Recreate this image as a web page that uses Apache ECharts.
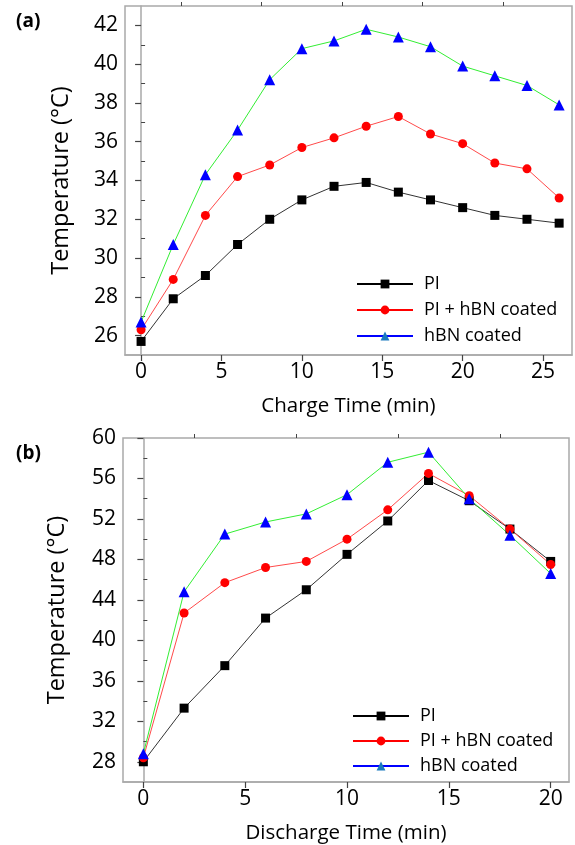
<!DOCTYPE html>
<html>
<head>
<meta charset="utf-8">
<script src="https://cdn.jsdelivr.net/npm/echarts@6/dist/echarts.min.js"></script>
<style>
  html, body { margin: 0; padding: 0; background: #fff; }
  #chart { width: 575px; height: 845px; }
</style>
</head>
<body>
<div id="chart"></div>
<script>
// (a) charge
var chargeTime = [0, 2, 4, 6, 8, 10, 12, 14, 16, 18, 20, 22, 24, 26];
var piCharge = [25.7, 27.9, 29.1, 30.7, 32.0, 33.0, 33.7, 33.9, 33.4, 33.0, 32.6, 32.2, 32.0, 31.8];
var piHbnCharge = [26.3, 28.9, 32.2, 34.2, 34.8, 35.7, 36.2, 36.8, 37.3, 36.4, 35.9, 34.9, 34.6, 33.1];
var hbnCharge = [26.7, 30.7, 34.3, 36.6, 39.2, 40.8, 41.2, 41.8, 41.4, 40.9, 39.9, 39.4, 38.9, 37.9];

// (b) discharge
var dischargeTime = [0, 2, 4, 6, 8, 10, 12, 14, 16, 18, 20];
var piDischarge = [28.0, 33.3, 37.5, 42.2, 45.0, 48.5, 51.8, 55.8, 53.8, 51.0, 47.8];
var piHbnDischarge = [28.4, 42.7, 45.7, 47.2, 47.8, 50.0, 52.9, 56.5, 54.3, 51.0, 47.5];
var hbnDischarge = [28.8, 44.8, 50.5, 51.7, 52.5, 54.4, 57.6, 58.6, 54.0, 50.4, 46.6];

// tick labels
var chargeXTicks = [0, 5, 10, 15, 20, 25];
var chargeXMinor = [2.5, 7.5, 12.5, 17.5, 22.5];
var chargeYTicks = [26, 28, 30, 32, 34, 36, 38, 40, 42];
var chargeYMinor = [27, 29, 31, 33, 35, 37, 39, 41];
var dischargeXTicks = [0, 5, 10, 15, 20];
var dischargeXMinor = [2.5, 7.5, 12.5, 17.5];
var dischargeYTicks = [28, 32, 36, 40, 44, 48, 52, 56, 60];
var dischargeYMinor = [30, 34, 38, 42, 46, 50, 54, 58];

var names = ['PI', 'PI + hBN coated', 'hBN coated'];

function pairs(xs, ys) {
    return xs.map(function (x, i) { return [x, ys[i]]; });
}

var font = 'Open Sans';
var axisGrey = '#a9a9a9';

function valueAxis(grid, min, max, ticks, name, gap, nameSize) {
    return {
        type: 'value',
        gridIndex: grid,
        min: min,
        max: max,
        name: name,
        nameLocation: 'middle',
        nameGap: gap,
        nameTextStyle: { fontFamily: font, fontSize: nameSize, color: '#000' },
        axisLine: { show: true, lineStyle: { color: axisGrey, width: 1.5 } },
        axisTick: { show: true, inside: false, length: 6, customValues: ticks, lineStyle: { color: '#444', width: 1.2 } },
        axisLabel: { customValues: ticks, fontFamily: font, fontSize: 21, color: '#000', margin: 7 },
        splitLine: { show: false }
    };
}

// second axis that only draws the short minor ticks
function minorAxis(grid, min, max, ticks) {
    return {
        type: 'value',
        gridIndex: grid,
        min: min,
        max: max,
        axisLine: { show: false },
        axisTick: { show: true, length: 4, customValues: ticks, lineStyle: { color: '#444', width: 1 } },
        axisLabel: { show: false },
        splitLine: { show: false }
    };
}

function lineSeries(name, data, xi, yi, lineColor, markColor, symbol, size) {
    return {
        name: name,
        type: 'line',
        xAxisIndex: xi,
        yAxisIndex: yi,
        data: data,
        symbol: symbol,
        symbolSize: size,
        showSymbol: true,
        lineStyle: { color: lineColor, width: 1 },
        itemStyle: { color: markColor },
        animation: false
    };
}

function legendAt(left, top, gap) {
    return {
        orient: 'vertical',
        left: left,
        top: top,
        itemWidth: 56,
        itemHeight: 11,
        itemGap: gap,
        textStyle: { fontFamily: font, fontSize: 18, color: '#000', padding: [0, 0, 0, 6] },
        data: [
            { name: names[0], itemStyle: { color: '#000' }, lineStyle: { color: '#000', width: 2 } },
            { name: names[1], itemStyle: { color: '#ff0000' }, lineStyle: { color: '#ff0000', width: 2 } },
            { name: names[2], itemStyle: { color: '#1a7abf' }, lineStyle: { color: '#0000ff', width: 2 } }
        ],
        selectedMode: false
    };
}

var chart = echarts.init(document.getElementById('chart'));
chart.setOption({
    backgroundColor: '#fff',
    animation: false,
    title: [
        { text: '(a)', left: 11, top: 7, textStyle: { fontFamily: font, fontSize: 19, fontWeight: 'bold', color: '#000' } },
        { text: '(b)', left: 11, top: 439, textStyle: { fontFamily: font, fontSize: 19, fontWeight: 'bold', color: '#000' } }
    ],
    grid: [
        { left: 125, top: 6, right: 3, height: 349, show: true, borderColor: axisGrey, borderWidth: 1.5, backgroundColor: 'transparent' },
        { left: 123, top: 438, right: 6, height: 345, show: true, borderColor: axisGrey, borderWidth: 1.5, backgroundColor: 'transparent' }
    ],
    legend: [legendAt(351, 270, 8), legendAt(347, 702, 7)],
    xAxis: [
        valueAxis(0, -1, 26.8, chargeXTicks, 'Charge Time (min)', 41, 20.5),
        valueAxis(1, -1, 20.9, dischargeXTicks, 'Discharge Time (min)', 41, 20.5),
        minorAxis(0, -1, 26.8, chargeXMinor),
        minorAxis(1, -1, 20.9, dischargeXMinor)
    ],
    yAxis: [
        valueAxis(0, 25, 43, chargeYTicks, 'Temperature (\u00B0C)', 52, 23.5),
        valueAxis(1, 26, 60, dischargeYTicks, 'Temperature (\u00B0C)', 54, 23.5),
        minorAxis(0, 25, 43, chargeYMinor),
        minorAxis(1, 26, 60, dischargeYMinor)
    ],
    series: [
        lineSeries(names[0], pairs(chargeTime, piCharge), 0, 0, '#333333', '#000000', 'rect', 9),
        lineSeries(names[1], pairs(chargeTime, piHbnCharge), 0, 0, '#ff4a4a', '#ff0000', 'circle', 9),
        lineSeries(names[2], pairs(chargeTime, hbnCharge), 0, 0, '#33ee33', '#0000ff', 'triangle', 11),
        lineSeries(names[0], pairs(dischargeTime, piDischarge), 1, 1, '#333333', '#000000', 'rect', 9),
        lineSeries(names[1], pairs(dischargeTime, piHbnDischarge), 1, 1, '#ff4a4a', '#ff0000', 'circle', 9),
        lineSeries(names[2], pairs(dischargeTime, hbnDischarge), 1, 1, '#33ee33', '#0000ff', 'triangle', 11)
    ]
});
</script>
</body>
</html>
